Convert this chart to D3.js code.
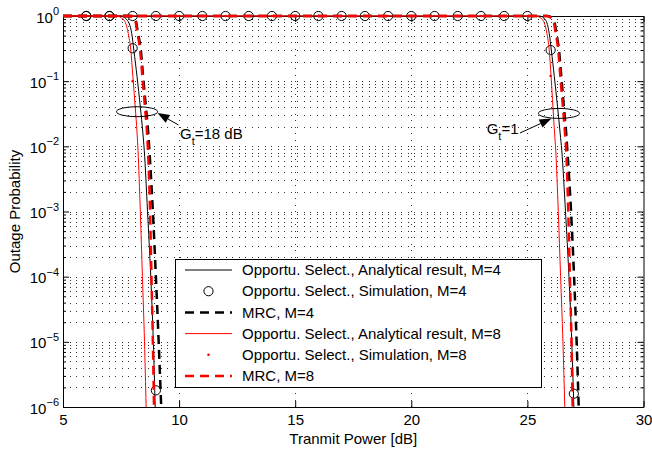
<!DOCTYPE html>
<html>
<head>
<meta charset="utf-8">
<script src="https://cdn.jsdelivr.net/npm/d3@7"></script>
<style>
  body { margin: 0; background: #fff; }
  svg { display: block; font-family: "Liberation Sans", Arial, Helvetica, sans-serif; }
</style>
</head>
<body>
<div id="chart"></div>
<script>
// ---- values ----
const xTicks = [5, 10, 15, 20, 25, 30];
const yDecades = [1e-6, 1e-5, 1e-4, 1e-3, 1e-2, 1e-1, 1];
const yExponents = ["\u22126", "\u22125", "\u22124", "\u22123", "\u22122", "\u22121", "0"];

// G_t = 18 dB group  ([transmit power dB, outage probability])
const osAnaM4_G18 = [[5,1],[7.47,1],[7.76,0.87],[7.96,0.54],[8.05,0.3],[8.19,0.117],[8.33,0.04],[8.44,0.016],[8.50,0.0087],[8.64,1e-3],[8.78,1e-4],[8.89,1e-5],[8.97,1e-6]];
const osAnaM8_G18 = [[5,1],[7.29,1],[7.62,0.87],[7.81,0.54],[7.92,0.3],[8.01,0.117],[8.11,0.04],[8.19,0.016],[8.23,0.0087],[8.33,1e-3],[8.42,1e-4],[8.51,1e-5],[8.58,1e-6]];
const mrcM4_G18 = [[5,1],[7.85,1],[8.12,0.87],[8.23,0.54],[8.35,0.3],[8.45,0.117],[8.57,0.04],[8.67,0.016],[8.72,0.0087],[8.87,1e-3],[9.00,1e-4],[9.12,1e-5],[9.23,1e-6]];
const mrcM8_G18 = [[5,1],[7.82,1],[8.10,0.87],[8.21,0.54],[8.32,0.3],[8.42,0.117],[8.53,0.04],[8.62,0.016],[8.66,0.0087],[8.75,1e-3],[8.81,1e-4],[8.87,1e-5],[8.92,1e-6]];
const osSimM4_G18 = [[6,1],[7,1],[8,0.32],[9,1.8e-6]];
const osSimM8_G18 = [[6,1],[7,1],[8,0.1]];

// G_t = 1 group
const osAnaM4_G1 = [[5,1],[25.52,1],[25.78,0.87],[25.94,0.54],[26.03,0.3],[26.16,0.117],[26.30,0.04],[26.41,0.016],[26.48,0.0087],[26.64,1e-3],[26.79,1e-4],[26.91,1e-5],[27.00,1e-6]];
const osAnaM8_G1 = [[5,1],[25.35,1],[25.66,0.87],[25.84,0.54],[25.94,0.3],[26.02,0.117],[26.10,0.04],[26.17,0.016],[26.22,0.0087],[26.33,1e-3],[26.43,1e-4],[26.53,1e-5],[26.61,1e-6]];
const mrcM4_G1 = [[5,1],[25.88,1],[26.14,0.87],[26.25,0.54],[26.36,0.3],[26.46,0.117],[26.57,0.04],[26.67,0.016],[26.72,0.0087],[26.88,1e-3],[27.01,1e-4],[27.12,1e-5],[27.21,1e-6]];
const mrcM8_G1 = [[5,1],[25.84,1],[26.11,0.87],[26.22,0.54],[26.33,0.3],[26.42,0.117],[26.53,0.04],[26.62,0.016],[26.67,0.0087],[26.76,1e-3],[26.83,1e-4],[26.90,1e-5],[26.95,1e-6]];
const osSimM4_G1 = [[6,1],[7,1],[8,1],[9,1],[10,1],[11,1],[12,1],[13,1],[14,1],[15,1],[16,1],[17,1],[18,1],[19,1],[20,1],[21,1],[22,1],[23,1],[24,1],[25,1],[26,0.30],[27,1.6e-6]];
const osSimM8_G1 = [[6,1],[7,1],[8,1],[9,1],[10,1],[11,1],[12,1],[13,1],[14,1],[15,1],[16,1],[17,1],[18,1],[19,1],[20,1],[21,1],[22,1],[23,1],[24,1],[25,1],[26,0.12]];

const legendLabels = [
  "Opportu. Select., Analytical result, M=4",
  "Opportu. Select., Simulation, M=4",
  "MRC, M=4",
  "Opportu. Select., Analytical result, M=8",
  "Opportu. Select., Simulation, M=8",
  "MRC, M=8"
];

// ---- layout ----
const width = 652, height = 450;
const plotLeft = 63, plotRight = 643.5, plotTop = 16, plotBottom = 407;
const fontSize = 15;

const x = d3.scaleLinear().domain([5, 30]).range([plotLeft, plotRight]);
const y = d3.scaleLog().domain([1e-6, 1]).range([plotBottom, plotTop]);

const svg = d3.select("#chart").append("svg")
  .attr("width", width).attr("height", height)
  .attr("font-size", fontSize);

// grid (dotted)
const allYTicks = y.ticks();
const isDecade = v => Math.abs(Math.log10(v) - Math.round(Math.log10(v))) < 1e-9;
const minorY = allYTicks.filter(v => !isDecade(v));
const grid = svg.append("g").attr("stroke", "#333").attr("stroke-width", 1)
  .attr("stroke-dasharray", "1,5.5").attr("shape-rendering", "crispEdges");
grid.selectAll(".gy").data(allYTicks.filter(v => v > 1e-6 && v < 1)).join("line")
  .attr("x1", plotLeft).attr("x2", plotRight)
  .attr("y1", d => Math.round(y(d)) + 0.5).attr("y2", d => Math.round(y(d)) + 0.5);
grid.selectAll(".gx").data(xTicks.slice(1, -1)).join("line")
  .attr("y1", plotTop).attr("y2", plotBottom)
  .attr("x1", d => Math.round(x(d)) + 0.5).attr("x2", d => Math.round(x(d)) + 0.5);

// axes (inward ticks, box)
function styleAxis(g) {
  g.attr("font-size", null).attr("font-family", null);
  g.selectAll("path, line").attr("stroke", "#000");
  g.selectAll("text").attr("fill", "#000");
}
svg.append("g").attr("transform", `translate(0,${plotBottom})`)
  .call(d3.axisBottom(x).tickValues(xTicks).tickSizeInner(-6).tickSizeOuter(0).tickPadding(7.5))
  .call(styleAxis);
svg.append("g").attr("transform", `translate(0,${plotTop})`)
  .call(d3.axisTop(x).tickValues(xTicks).tickSizeInner(-6).tickSizeOuter(0).tickFormat(""))
  .call(styleAxis);
svg.append("g").attr("transform", `translate(${plotLeft},0)`)
  .call(d3.axisLeft(y).tickValues(yDecades).tickSizeInner(-6).tickSizeOuter(0).tickFormat(""))
  .call(styleAxis);
svg.append("g").attr("transform", `translate(${plotLeft},0)`)
  .call(d3.axisLeft(y).tickValues(minorY).tickSizeInner(-3).tickSizeOuter(0).tickFormat(""))
  .call(styleAxis).call(g => g.select(".domain").remove());
svg.append("g").attr("transform", `translate(${plotRight},0)`)
  .call(d3.axisRight(y).tickValues(yDecades).tickSizeInner(-6).tickSizeOuter(0).tickFormat(""))
  .call(styleAxis);
svg.append("g").attr("transform", `translate(${plotRight},0)`)
  .call(d3.axisRight(y).tickValues(minorY).tickSizeInner(-3).tickSizeOuter(0).tickFormat(""))
  .call(styleAxis).call(g => g.select(".domain").remove());

// y tick labels 10^k
const yLab = svg.append("g").selectAll("text").data(yDecades).join("text")
  .attr("x", plotLeft - 4).attr("y", d => y(d) + 6.5).attr("text-anchor", "end");
yLab.append("tspan").text("10");
yLab.append("tspan").attr("dy", -7.5).attr("font-size", 11).text((d, i) => yExponents[i]);

// axis titles
svg.append("text").attr("x", (plotLeft + plotRight) / 2).attr("y", 444)
  .attr("text-anchor", "middle").text("Tranmit Power [dB]");
svg.append("text").attr("transform", `translate(20,${(plotTop + plotBottom) / 2}) rotate(-90)`)
  .attr("text-anchor", "middle").text("Outage Probability");

// ---- series ----
const line = d3.line().x(d => x(d[0])).y(d => y(d[1])).curve(d3.curveMonotoneX);
const plot = svg.append("g");

const dashPattern = "9,6";
function drawLine(data, color, w, dash) {
  plot.append("path").datum(data).attr("d", line)
    .attr("fill", "none").attr("stroke", color).attr("stroke-width", w)
    .attr("stroke-dasharray", dash || null);
}
function drawCircles(data) {
  plot.append("g").selectAll("circle").data(data).join("circle")
    .attr("cx", d => x(d[0])).attr("cy", d => y(d[1])).attr("r", 4.6)
    .attr("fill", "none").attr("stroke", "#000").attr("stroke-width", 1);
}
function drawDots(data) {
  plot.append("g").selectAll("circle").data(data).join("circle")
    .attr("cx", d => x(d[0])).attr("cy", d => y(d[1])).attr("r", 1.3)
    .attr("fill", "#f00");
}

drawLine(osAnaM4_G18, "#000", 1);
drawLine(osAnaM4_G1, "#000", 1);
drawCircles(osSimM4_G18);
drawCircles(osSimM4_G1);
drawLine(mrcM4_G18, "#000", 2.5, dashPattern);
drawLine(mrcM4_G1, "#000", 2.5, dashPattern);
drawLine(osAnaM8_G18, "#f00", 1);
drawLine(osAnaM8_G1, "#f00", 1);
drawDots(osSimM8_G18);
drawDots(osSimM8_G1);
drawLine(mrcM8_G18, "#f00", 2.5, dashPattern);
drawLine(mrcM8_G1, "#f00", 2.5, dashPattern);

// ---- annotations (ellipses + arrows) ----
const ann = svg.append("g");
function annotate(cx, cy, tip, tail, textX, textY, rest, anchor) {
  ann.append("ellipse").attr("cx", cx).attr("cy", cy).attr("rx", 20.6).attr("ry", 5)
    .attr("fill", "none").attr("stroke", "#000").attr("stroke-width", 1);
  const ang = Math.atan2(tip[1] - tail[1], tip[0] - tail[0]);
  const L = 12, hw = 4.5;
  const bx = tip[0] - L * Math.cos(ang), by = tip[1] - L * Math.sin(ang);
  ann.append("line").attr("x1", tail[0]).attr("y1", tail[1]).attr("x2", bx).attr("y2", by)
    .attr("stroke", "#000").attr("stroke-width", 1);
  ann.append("path")
    .attr("d", `M${tip[0]},${tip[1]}L${bx - hw * Math.sin(ang)},${by + hw * Math.cos(ang)}L${bx + hw * Math.sin(ang)},${by - hw * Math.cos(ang)}Z`)
    .attr("fill", "#000");
  const t = ann.append("text").attr("x", textX).attr("y", textY).attr("text-anchor", anchor);
  t.append("tspan").text("G");
  t.append("tspan").attr("dy", 6).attr("font-size", 11).text("t");
  t.append("tspan").attr("dy", -6).text(rest);
}
annotate(x(8.19), y(0.034), [157.5, 113], [178.5, 125], 180, 139, "=18 dB", "start");
annotate(x(26.36), y(0.032), [551.5, 118.5], [520, 133], 518.5, 134, "=1", "end");

// ---- legend ----
const lg = svg.append("g");
const lgX = 175.5, lgY = 259.5, lgW = 366, lgH = 128, rowH = 21.2, row0 = 270;
lg.append("rect").attr("x", lgX).attr("y", lgY).attr("width", lgW).attr("height", lgH)
  .attr("fill", "#fff").attr("stroke", "#000").attr("stroke-width", 1);
const sampleX1 = 185, sampleX2 = 232, textX = 242;
const legendKinds = [
  {type: "line", color: "#000", w: 1},
  {type: "circle"},
  {type: "line", color: "#000", w: 2.5, dash: dashPattern},
  {type: "line", color: "#f00", w: 1},
  {type: "dot"},
  {type: "line", color: "#f00", w: 2.5, dash: dashPattern}
];
legendLabels.forEach((label, i) => {
  const ry = row0 + i * rowH;
  const k = legendKinds[i];
  if (k.type === "line") {
    lg.append("line").attr("x1", sampleX1).attr("x2", sampleX2).attr("y1", ry).attr("y2", ry)
      .attr("stroke", k.color).attr("stroke-width", k.w).attr("stroke-dasharray", k.dash || null);
  } else if (k.type === "circle") {
    lg.append("circle").attr("cx", (sampleX1 + sampleX2) / 2).attr("cy", ry).attr("r", 4.6)
      .attr("fill", "none").attr("stroke", "#000");
  } else {
    lg.append("circle").attr("cx", (sampleX1 + sampleX2) / 2).attr("cy", ry).attr("r", 1.3)
      .attr("fill", "#f00");
  }
  lg.append("text").attr("x", textX).attr("y", ry).attr("dy", "0.35em").text(label);
});
</script>
</body>
</html>
